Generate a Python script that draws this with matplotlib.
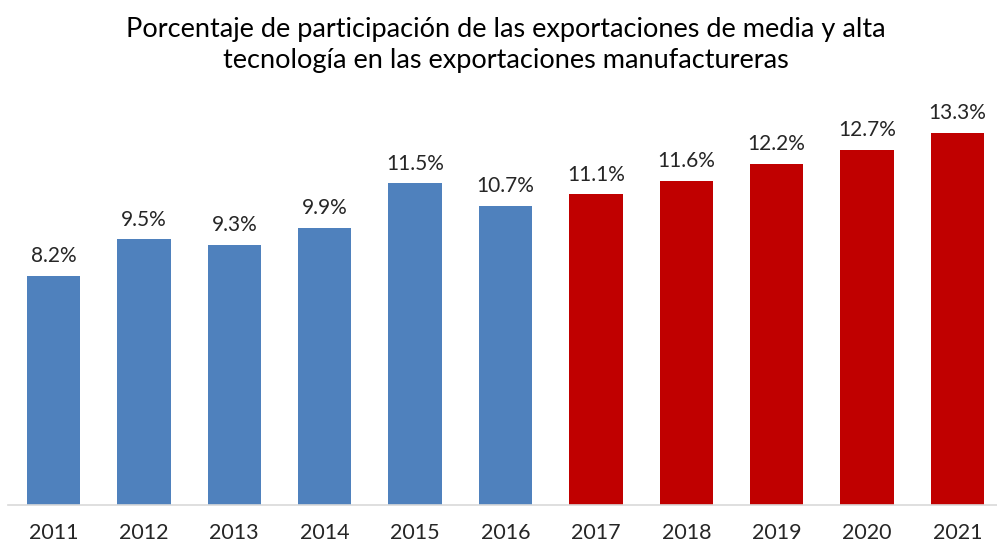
import matplotlib
matplotlib.use('Agg')
import matplotlib.pyplot as plt

# Datos del gráfico
anios = ['2011', '2012', '2013', '2014', '2015', '2016', '2017', '2018', '2019', '2020', '2021']
porcentajes = [8.2, 9.5, 9.3, 9.9, 11.5, 10.7, 11.1, 11.6, 12.2, 12.7, 13.3]
colores = ['#4F81BD'] * 6 + ['#C00000'] * 5

plt.rcParams['font.family'] = ['Lato', 'DejaVu Sans']

fig = plt.figure(figsize=(9.97, 5.46), dpi=100)
ax = fig.add_axes([8.3 / 997, 41 / 546, 994.4 / 997, 419.6 / 546])

x = range(len(anios))
barras = ax.bar(x, porcentajes, width=0.59, color=colores)

# Etiquetas de valor sobre cada barra
for xi, v in zip(x, porcentajes):
    ax.annotate(f'{v:.1f}%', (xi, v), xytext=(0, 7), textcoords='offset points',
                ha='center', va='bottom', fontsize=15, color='#262626')

ax.set_xlim(-0.5, len(anios) - 0.5)
ax.set_ylim(0, 15)
ax.set_xticks(list(x))
ax.set_xticklabels(anios, fontsize=15.5, color='#262626')
ax.tick_params(axis='x', length=0, pad=13)
ax.set_yticks([])
for lado in ['top', 'right', 'left']:
    ax.spines[lado].set_visible(False)
ax.spines['bottom'].set_color('#D9D9D9')
ax.spines['bottom'].set_linewidth(1.2)

fig.text(0.507, 0.917, 'Porcentaje de participación de las exportaciones de media y alta\ntecnología en las exportaciones manufactureras',
         ha='center', va='center', fontsize=19.5, color='black', linespacing=1.3)

fig.savefig('out.png', dpi=100)
